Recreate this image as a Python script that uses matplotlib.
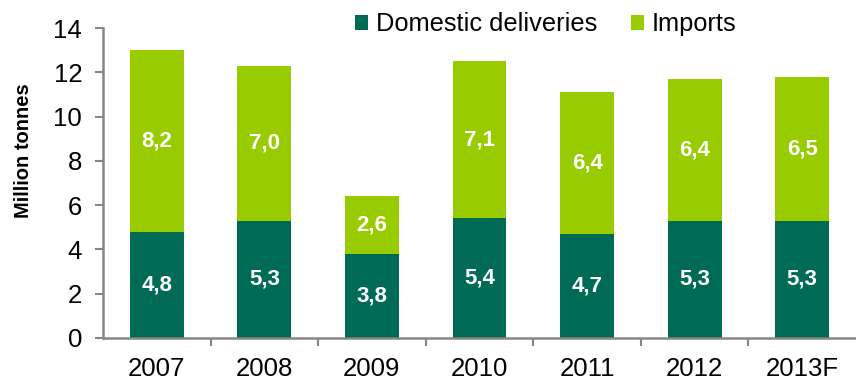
import matplotlib.pyplot as plt
import numpy as np

plt.rcParams['font.family'] = ['Liberation Sans', 'DejaVu Sans']

years = ['2007', '2008', '2009', '2010', '2011', '2012', '2013F']
domestic = [4.8, 5.3, 3.8, 5.4, 4.7, 5.3, 5.3]
imports = [8.2, 7.0, 2.6, 7.1, 6.4, 6.4, 6.5]

dark_green = '#006B54'
light_green = '#99CC00'
axis_grey = '#868686'

fig = plt.figure(figsize=(8.56, 3.81), dpi=100)
ax = fig.add_axes([0.1203, 0.1129, 0.8797, 0.8136])

x = np.arange(len(years))
b1 = ax.bar(x, domestic, width=0.5, color=dark_green, label='Domestic deliveries')
b2 = ax.bar(x, imports, width=0.5, bottom=domestic, color=light_green, label='Imports')

# value labels, centred in each segment
for i in range(len(years)):
    ax.text(x[i], domestic[i] / 2, '{:.1f}'.format(domestic[i]).replace('.', ','),
            ha='center', va='center', color='white', fontsize=16, fontweight='bold')
    ax.text(x[i], domestic[i] + imports[i] / 2, '{:.1f}'.format(imports[i]).replace('.', ','),
            ha='center', va='center', color='white', fontsize=16, fontweight='bold')

ax.set_xlim(-0.5, len(years) - 0.5)
ax.set_ylim(0, 14)
ax.set_yticks(np.arange(0, 15, 2))
ax.set_xticks(x)
ax.set_xticklabels(years)
ax.set_xticks(np.arange(0.5, len(years) - 0.5, 1), minor=True)
ax.tick_params(axis='x', which='major', length=0, pad=14, labelsize=18.5)
ax.tick_params(axis='x', which='minor', length=6, width=1.5, color=axis_grey)
ax.tick_params(axis='y', length=6, width=1.5, color=axis_grey, pad=9, labelsize=18.5)

for side in ['top', 'right']:
    ax.spines[side].set_visible(False)
for side in ['left', 'bottom']:
    ax.spines[side].set_color(axis_grey)
    ax.spines[side].set_linewidth(1.8)

fig.text(0.027, 0.604, 'Million tonnes', rotation=90, ha='center', va='center',
         fontsize=14.5, fontweight='bold')

fig.legend(handles=[b1, b2], loc='center left', bbox_to_anchor=(0.415, 0.936),
           ncol=2, frameon=False, fontsize=18.3, handlelength=0.5, handleheight=0.5,
           handletextpad=0.3, columnspacing=1.35, borderpad=0, borderaxespad=0)

fig.savefig('out.png', dpi=100)
